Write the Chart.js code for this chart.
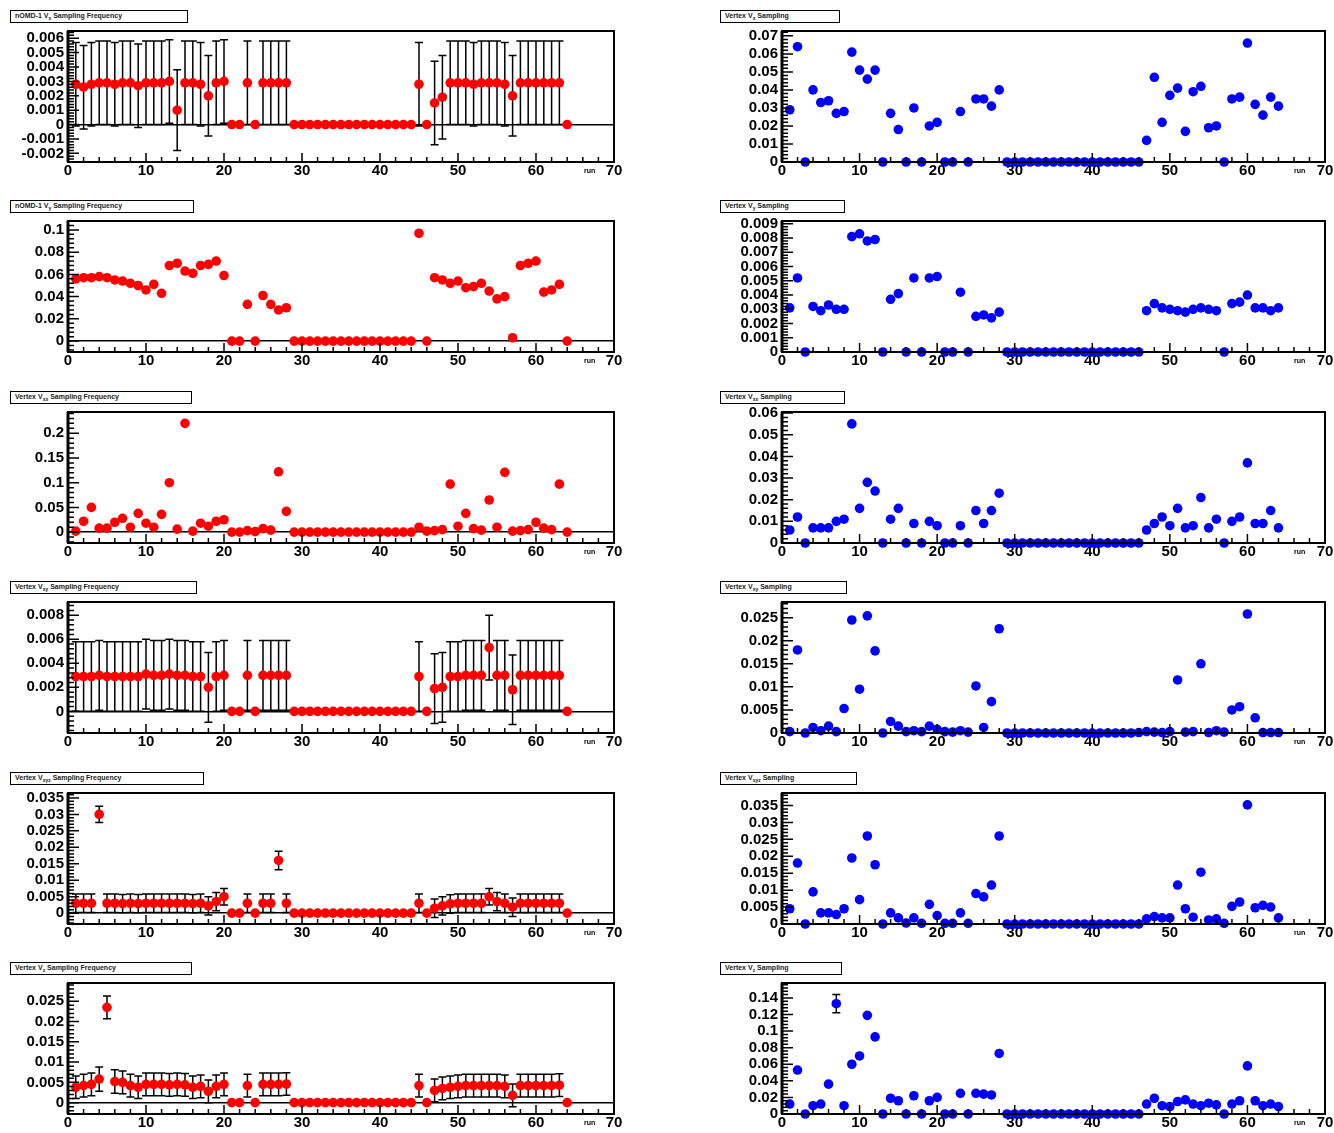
<!DOCTYPE html>
<html>
<head>
<meta charset="utf-8">
<script src="https://cdn.jsdelivr.net/npm/chart.js@4.4.0/dist/chart.umd.min.js"></script>
<style>
  body { margin: 0; background: #fff; width: 1334px; height: 1133px; position: relative; overflow: hidden;
         font-family: "Liberation Sans", Arial, sans-serif; }
  canvas { position: absolute; }
  .ttl { position: absolute; height: 11px; border: 1.5px solid #000; background: #fff; box-sizing: content-box;
         font-size: 7px; font-weight: bold; line-height: 10px; padding-left: 4px; color: #222; white-space: nowrap; overflow: hidden; }
  .ttl sub { font-size: 5px; }
  .axt { position: absolute; font-size: 7px; font-weight: bold; color: #000; }
</style>
</head>
<body>
<script>
// run numbers on the x axis
const runs = [1,2,3,4,5,6,7,8,9,10,11,12,13,14,15,16,17,18,19,20,
              21,22,23,24,25,26,27,28,29,30,31,32,33,34,35,36,37,38,39,40,
              41,42,43,44,45,46,47,48,49,50,51,52,53,54,55,56,57,58,59,60,
              61,62,63,64];

// left column (red, with errors)
const leftX = [.0028,.0026,.0028,.0029,.0029,.0028,.0029,.0029,.0027,.0029,.0029,.0029,.0030,.0010,.0029,.0029,.0028,.0020,.0029,.0030,
               0,0,.0029,0,.0029,.0029,.0029,.0029,
               0,0,0,0,0,0,0,0,0,0,0,0,0,0,0,0,
               .0028,0,.0015,.0019,.0029,.0029,.0029,.0028,.0029,.0029,.0029,.0028,.0020,.0029,.0029,.0029,.0029,.0029,.0029,0];
const leftXErr = [.0029,.0029,.0029,.0029,.0029,.0029,.0029,.0029,.0029,.0029,.0029,.0029,.0029,.0028,.0029,.0029,.0029,.0028,.0029,.0029,
               0,0,.0029,0,.0029,.0029,.0029,.0029,
               0,0,0,0,0,0,0,0,0,0,0,0,0,0,0,0,
               .0029,0,.0029,.0029,.0029,.0029,.0029,.0029,.0029,.0029,.0029,.0029,.0028,.0029,.0029,.0029,.0029,.0029,.0029,0];

const leftY = [.056,.057,.057,.058,.057,.055,.054,.052,.050,.046,.051,.043,.068,.070,.063,.061,.068,.069,.072,.059,
               0,0,.033,0,.041,.033,.028,.030,
               0,0,0,0,0,0,0,0,0,0,0,0,0,0,0,0,
               .097,0,.057,.055,.052,.054,.048,.049,.052,.045,.038,.040,.003,.068,.070,.072,.044,.046,.051,0];

const leftXX = [.002,.022,.050,.008,.008,.020,.028,.010,.038,.018,.010,.036,.100,.006,.220,.002,.018,.012,.022,.025,
                0,0,.003,.001,.007,.004,.122,.042,
                0,0,0,0,0,0,0,0,0,0,0,0,0,0,0,0,
                .010,.002,.003,.005,.097,.012,.038,.007,.004,.065,.010,.121,.002,.003,.005,.020,.008,.005,.097,0];

const leftXY = [.0029,.0029,.0029,.0030,.0029,.0029,.0029,.0029,.0029,.0031,.0030,.0030,.0031,.0030,.0030,.0029,.0029,.0020,.0029,.0030,
                0,0,.0030,0,.0030,.0030,.0030,.0030,
                0,0,0,0,0,0,0,0,0,0,0,0,0,0,0,0,
                .0029,0,.0019,.0020,.0029,.0029,.0030,.0030,.0030,.0053,.0030,.0030,.0018,.0030,.0030,.0030,.0030,.0030,.0030,0];
const leftXYErr = [.0029,.0029,.0029,.0029,.0029,.0029,.0029,.0029,.0029,.0029,.0029,.0029,.0029,.0029,.0029,.0029,.0029,.0029,.0029,.0029,
                0,0,.0029,0,.0029,.0029,.0029,.0029,
                0,0,0,0,0,0,0,0,0,0,0,0,0,0,0,0,
                .0029,0,.0029,.0029,.0029,.0029,.0029,.0029,.0029,.0027,.0029,.0029,.0029,.0029,.0029,.0029,.0029,.0029,.0029,0];

const leftXYZ = [.0030,.0030,.0030,.0300,.0030,.0030,.0029,.0030,.0029,.0030,.0030,.0030,.0030,.0030,.0030,.0029,.0030,.0022,.0035,.0050,
                 0,0,.0030,0,.0030,.0030,.0160,.0030,
                 0,0,0,0,0,0,0,0,0,0,0,0,0,0,0,0,
                 .0030,0,.0015,.0022,.0028,.0030,.0030,.0030,.0030,.0050,.0035,.0030,.0018,.0030,.0030,.0030,.0030,.0030,.0030,0];
const leftXYZErr = [.0028,.0028,.0028,.0025,.0028,.0028,.0028,.0028,.0028,.0028,.0028,.0028,.0028,.0028,.0028,.0028,.0028,.0028,.0028,.0025,
                 0,0,.0028,0,.0028,.0028,.0028,.0028,
                 0,0,0,0,0,0,0,0,0,0,0,0,0,0,0,0,
                 .0028,0,.0028,.0028,.0028,.0028,.0028,.0028,.0028,.0025,.0028,.0028,.0028,.0028,.0028,.0028,.0028,.0028,.0028,0];

const leftZ = [.0038,.0042,.0045,.0058,.0235,.0052,.0050,.0042,.0038,.0045,.0045,.0045,.0044,.0045,.0044,.0038,.0040,.0028,.0040,.0045,
               0,0,.0042,0,.0045,.0045,.0045,.0046,
               0,0,0,0,0,0,0,0,0,0,0,0,0,0,0,0,
               .0042,0,.0030,.0035,.0038,.0040,.0042,.0042,.0042,.0042,.0042,.0040,.0018,.0042,.0042,.0042,.0042,.0042,.0043,0];
const leftZErr = [.0028,.0028,.0028,.0030,.0028,.0029,.0028,.0028,.0028,.0028,.0028,.0028,.0028,.0028,.0028,.0028,.0028,.0028,.0028,.0028,
               0,0,.0028,0,.0028,.0028,.0028,.0028,
               0,0,0,0,0,0,0,0,0,0,0,0,0,0,0,0,
               .0028,0,.0028,.0028,.0028,.0028,.0028,.0028,.0028,.0028,.0028,.0028,.0028,.0028,.0028,.0028,.0028,.0028,.0028,0];

// right column (blue)
const rightX = [.029,.064,0,.040,.033,.034,.027,.028,.061,.051,.046,.051,0,.027,.018,0,.030,0,.020,.022,
                0,0,.028,0,.035,.035,.031,.040,
                0,0,0,0,0,0,0,0,0,0,0,0,0,0,0,0,
                0,0,.012,.047,.022,.037,.041,.017,.039,.042,.019,.020,0,.035,.036,.066,.032,.026,.036,.031];

const rightY = [.0031,.0052,0,.0032,.0029,.0033,.0030,.0030,.0081,.0083,.0078,.0079,0,.0037,.0041,0,.0052,0,.0052,.0053,
                0,0,.0042,0,.0025,.0026,.0024,.0028,
                0,0,0,0,0,0,0,0,0,0,0,0,0,0,0,0,
                0,0,.0029,.0034,.0031,.0030,.0029,.0028,.0030,.0031,.0030,.0029,0,.0034,.0035,.0040,.0031,.0031,.0029,.0031];

const rightXX = [.006,.012,0,.007,.007,.007,.010,.011,.055,.016,.028,.024,0,.011,.016,0,.009,0,.010,.008,
                 0,0,.008,0,.015,.009,.015,.023,
                 0,0,0,0,0,0,0,0,0,0,0,0,0,0,0,0,
                 0,0,.006,.009,.012,.008,.016,.007,.008,.021,.007,.011,0,.010,.012,.037,.009,.009,.015,.007];

const rightXY = [.0003,.0180,0,.0012,.0005,.0015,.0003,.0053,.0245,.0095,.0254,.0178,0,.0025,.0015,.0003,.0005,.0003,.0015,.0008,
                 .0003,.0002,.0005,.0002,.0102,.0012,.0068,.0226,
                 0,0,0,0,0,0,0,0,0,0,0,0,0,0,0,0,
                 0,.0001,.0003,.0002,.0001,.0003,.0115,.0002,.0003,.0150,.0001,.0005,.0002,.0050,.0057,.0258,.0033,.0001,.0001,.0001];

const rightXYZ = [.0045,.0180,0,.0095,.0033,.0033,.0028,.0045,.0195,.0072,.0260,.0175,0,.0033,.0018,.0003,.0018,.0002,.0058,.0025,
                  .0002,.0002,.0033,.0002,.0090,.0080,.0115,.0260,
                  0,0,0,0,0,0,0,0,0,0,0,0,0,0,0,0,
                  0,0,.0015,.0022,.0018,.0018,.0115,.0045,.0020,.0153,.0012,.0015,.0002,.0052,.0065,.0352,.0048,.0055,.0050,.0018];

const rightZ = [.012,.053,0,.010,.012,.036,.133,.010,.060,.070,.119,.093,0,.019,.016,0,.022,0,.016,.020,
                0,0,.025,0,.025,.024,.023,.073,
                0,0,0,0,0,0,0,0,0,0,0,0,0,0,0,0,
                0,0,.012,.019,.010,.009,.015,.017,.012,.010,.013,.011,0,.012,.016,.058,.016,.010,.012,.009];
const rightZErr = [0,0,0,0,0,0,.011,0,0,0,0,0,0,0,0,0,0,0,0,0,
                0,0,0,0,0,0,0,0,
                0,0,0,0,0,0,0,0,0,0,0,0,0,0,0,0,
                0,0,0,0,0,0,0,0,0,0,0,0,0,0,0,0,0,0,0,0];

const leftTitles = ['nOMD-1 V<sub>x</sub> Sampling Frequency', 'nOMD-1 V<sub>y</sub> Sampling Frequency',
                    'Vertex V<sub>xx</sub> Sampling Frequency', 'Vertex V<sub>xy</sub> Sampling Frequency',
                    'Vertex V<sub>xyz</sub> Sampling Frequency', 'Vertex V<sub>z</sub> Sampling Frequency'];
const rightTitles = ['Vertex V<sub>x</sub> Sampling', 'Vertex V<sub>y</sub> Sampling', 'Vertex V<sub>xx</sub> Sampling',
                     'Vertex V<sub>xy</sub> Sampling', 'Vertex V<sub>xyz</sub> Sampling', 'Vertex V<sub>z</sub> Sampling'];

// layout of the 6x2 grid
const frameTops = [28, 218, 409, 599, 790, 980];
const frameH = 134;

const panels = [
  { col: 0, row: 0, vals: leftX,   errs: leftXErr,   min: -0.0026, max: 0.0065, step: 0.001, color: '#ff0000' },
  { col: 1, row: 0, vals: rightX,  errs: null,       min: 0,       max: 0.0727, step: 0.01,  color: '#0000ff' },
  { col: 0, row: 1, vals: leftY,   errs: null,       min: -0.0098, max: 0.108,  step: 0.02,  color: '#ff0000' },
  { col: 1, row: 1, vals: rightY,  errs: null,       min: 0,       max: 0.0092, step: 0.001, color: '#0000ff' },
  { col: 0, row: 2, vals: leftXX,  errs: null,       min: -0.022,  max: 0.243,  step: 0.05,  color: '#ff0000' },
  { col: 1, row: 2, vals: rightXX, errs: null,       min: 0,       max: 0.0605, step: 0.01,  color: '#0000ff' },
  { col: 0, row: 3, vals: leftXY,  errs: leftXYErr,  min: -0.0018, max: 0.0091, step: 0.002, color: '#ff0000' },
  { col: 1, row: 3, vals: rightXY, errs: null,       min: 0,       max: 0.0284, step: 0.005, color: '#0000ff' },
  { col: 0, row: 4, vals: leftXYZ, errs: leftXYZErr, min: -0.0033, max: 0.0365, step: 0.005, color: '#ff0000' },
  { col: 1, row: 4, vals: rightXYZ,errs: null,       min: 0,       max: 0.0387, step: 0.005, color: '#0000ff' },
  { col: 0, row: 5, vals: leftZ,   errs: leftZErr,   min: -0.0028, max: 0.0295, step: 0.005, color: '#ff0000' },
  { col: 1, row: 5, vals: rightZ,  errs: rightZErr,  min: 0,       max: 0.158,  step: 0.02,  color: '#0000ff' }
];

// ROOT-like frame, inward ticks and error bars
const rootFrame = {
  id: 'rootFrame',
  beforeDatasetsDraw(chart) {
    const ds = chart.data.datasets[0];
    if (!ds.errors) return;
    const ctx = chart.ctx, xs = chart.scales.x, ys = chart.scales.y;
    ctx.save();
    ctx.strokeStyle = '#000';
    ctx.lineWidth = 1.5;
    ds.data.forEach((p, i) => {
      const e = ds.errors[i];
      if (!e) return;
      const px = xs.getPixelForValue(p.x);
      const y1 = ys.getPixelForValue(p.y - e), y2 = ys.getPixelForValue(p.y + e);
      ctx.beginPath();
      ctx.moveTo(px, y1); ctx.lineTo(px, y2);
      ctx.moveTo(px - 4, y1); ctx.lineTo(px + 4, y1);
      ctx.moveTo(px - 4, y2); ctx.lineTo(px + 4, y2);
      ctx.stroke();
    });
    ctx.restore();
  },
  afterDraw(chart) {
    const ctx = chart.ctx, a = chart.chartArea, xs = chart.scales.x, ys = chart.scales.y;
    ctx.save();
    ctx.strokeStyle = '#000';
    ctx.lineWidth = 1.5;
    // y ticks
    const step = ys.options.ticks.stepSize, minor = step / 5;
    ctx.beginPath();
    for (let v = Math.ceil(ys.min / minor) * minor; v <= ys.max + 1e-12; v += minor) {
      const major = Math.abs(v / step - Math.round(v / step)) < 1e-6;
      const py = ys.getPixelForValue(v);
      ctx.moveTo(a.left, py);
      ctx.lineTo(a.left + (major ? 11 : 6), py);
    }
    // x ticks
    for (let v = 0; v <= 70; v += 2) {
      const px = xs.getPixelForValue(v);
      ctx.moveTo(px, a.bottom);
      ctx.lineTo(px, a.bottom - (v % 10 === 0 ? 9 : 5));
    }
    ctx.stroke();
    ctx.lineWidth = 2;
    ctx.strokeRect(a.left, a.top, a.right - a.left, a.bottom - a.top);
    ctx.lineWidth = 3;
    ctx.beginPath();
    ctx.moveTo(a.left, a.top); ctx.lineTo(a.left, a.bottom);
    ctx.stroke();
    ctx.restore();
  }
};

const tickFont = { family: 'Liberation Sans', size: 15, weight: 'bold' };

panels.forEach(p => {
  const left = p.col === 0 ? 0 : 700;
  const width = p.col === 0 ? 630 : 634;
  const yAxisW = p.col === 0 ? 68 : 82;
  const padRight = p.col === 0 ? 16 : 9;
  const top = frameTops[p.row] - 10;

  const canvas = document.createElement('canvas');
  canvas.width = width;
  canvas.height = frameH + 10 + 22;
  canvas.style.left = left + 'px';
  canvas.style.top = top + 'px';
  document.body.appendChild(canvas);

  // title box
  const t = document.createElement('div');
  t.className = 'ttl';
  t.innerHTML = p.col === 0 ? leftTitles[p.row] : rightTitles[p.row];
  t.style.left = (p.col === 0 ? 10 : 720) + 'px';
  t.style.top = (frameTops[p.row] - 18) + 'px';
  t.style.width = (p.col === 0 ? [172, 178, 176, 181, 188, 176][p.row] : [114, 119, 119, 121, 131, 116][p.row]) + 'px';
  document.body.appendChild(t);

  // x axis title
  const ax = document.createElement('div');
  ax.className = 'axt';
  ax.textContent = 'run';
  ax.style.left = (p.col === 0 ? 584 : 1294) + 'px';
  ax.style.top = (frameTops[p.row] + frameH + 5) + 'px';
  document.body.appendChild(ax);

  new Chart(canvas, {
    type: 'scatter',
    data: {
      datasets: [{
        data: runs.map((r, i) => ({ x: r, y: p.vals[i] })),
        errors: p.errs,
        backgroundColor: p.color,
        borderWidth: 0,
        pointRadius: 4.8,
        pointHoverRadius: 4.8,
        clip: false
      }]
    },
    options: {
      responsive: false,
      animation: false,
      events: [],
      layout: { padding: { top: 10, right: padRight, left: 0, bottom: 0 } },
      plugins: { legend: { display: false }, tooltip: { enabled: false } },
      scales: {
        x: {
          type: 'linear', min: 0, max: 70,
          ticks: { stepSize: 10, font: tickFont, color: '#000', padding: 0, maxRotation: 0, autoSkip: false, includeBounds: false },
          grid: { display: false, drawTicks: false },
          border: { display: false },
          afterFit: s => { s.height = 22; }
        },
        y: {
          min: p.min, max: p.max,
          ticks: {
            stepSize: p.step, includeBounds: false, font: tickFont, color: '#000', padding: 4, autoSkip: false,
            callback: v => Math.abs(v) < 1e-12 ? '0' : String(+v.toFixed(4))
          },
          grid: {
            drawTicks: false, lineWidth: 1.5,
            color: c => (c.tick && Math.abs(c.tick.value) < 1e-12) ? '#000' : 'rgba(0,0,0,0)'
          },
          border: { display: false },
          afterFit: s => { s.width = yAxisW; }
        }
      }
    },
    plugins: [rootFrame]
  });
});
</script>
</body>
</html>
